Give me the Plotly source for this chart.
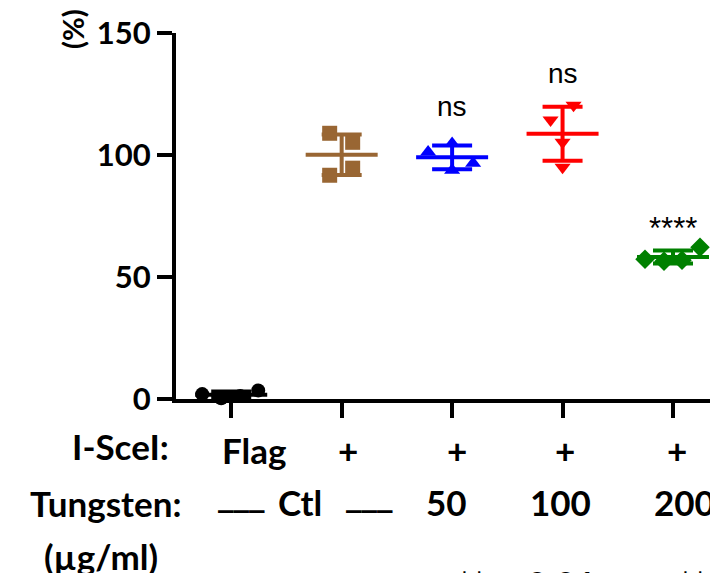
import numpy as np
import plotly.graph_objects as go

# ---------------- data ----------------
groups = ["Flag", "Ctl", "50", "100", "200"]
flag_vals = [2.0, 0.3, 1.2, 3.5]
ctl_vals = [108.9, 105.2, 91.7, 94.6]
t50_vals = [101.2, 104.7, 93.7, 96.6]
t100_vals = [120.4, 114.3, 105.2, 95.0]
t200_vals = [57.3, 56.5, 56.9, 62.2]
series = [flag_vals, ctl_vals, t50_vals, t100_vals, t200_vals]

sig_labels = ["", "", "ns", "ns", "****"]
sig_levels = [0, 0, 119.7, 133.6, 70.0]

y_ticks = [0, 50, 100, 150]
isce_row = ["Flag", "+", "+", "+", "+"]
tung_row = ["___", "Ctl", "___", "50", "100", "200"]
footnotes = ["**p<0.01,", "****p<0.0001"]

# ---------------- style ----------------
colors = ["#000000", "#996633", "#0000FF", "#FF0000", "#008000"]
symbols = ["circle", "square", "triangle-up", "triangle-down", "diamond"]
msizes = [14, 15, 14, 14, 15]
jitter_px = [[-29, -10, 9, 27], [-12, 11, -12, 11], [-24, 0, 0, 21],
             [11, -12, 0, 0], [-28, -9, 9, 27]]

W_FIG, H_FIG = 710, 573
L, R, T, B = 176, 0, 33, 174
PW, PH = W_FIG - L - R, H_FIG - T - B
XR = [-0.5, 4.335]
px_per_unit = PW / (XR[1] - XR[0])


def px_x(px):
    return (px - L) / PW


def px_y(py):
    return (H_FIG - B - py) / PH


fig = go.Figure()
for i, vals in enumerate(series):
    v = np.array(vals)
    m = v.mean()
    sd = v.std(ddof=1)
    xs = [i + j / px_per_unit for j in jitter_px[i]]
    fig.add_trace(go.Scatter(x=xs, y=vals, mode="markers", cliponaxis=False,
                             marker=dict(symbol=symbols[i], size=msizes[i], color=colors[i],
                                         line=dict(width=0)),
                             showlegend=False))
    hw = 36 / px_per_unit
    fig.add_trace(go.Scatter(x=[i - hw, i + hw], y=[m, m], mode="lines", cliponaxis=False,
                             line=dict(color=colors[i], width=4), showlegend=False))
    fig.add_trace(go.Scatter(x=[i], y=[m], mode="markers", cliponaxis=False,
                             marker=dict(size=1, color="rgba(0,0,0,0)"),
                             error_y=dict(type="data", array=[sd], visible=True,
                                          color=colors[i], thickness=4, width=20),
                             showlegend=False))

FS = 35
bold = dict(family="Lato", size=FS, color="black", weight="bold")
ann = []
for i, s in enumerate(sig_labels):
    if s:
        ann.append(dict(x=i, y=sig_levels[i], xref="x", yref="y", text=s, showarrow=False,
                        font=dict(family="Liberation Sans", size=28 if s == "ns" else 31,
                                  color="black"),
                        xanchor="center", yanchor="middle"))

# row labels
ann.append(dict(x=px_x(171), y=px_y(446), xref="paper", yref="paper", text="I-SceI:",
                showarrow=False, font=bold, xanchor="right", yanchor="middle"))
ann.append(dict(x=px_x(105), y=px_y(503), xref="paper", yref="paper", text="Tungsten:",
                showarrow=False, font=bold, xanchor="center", yanchor="middle"))
ann.append(dict(x=px_x(101), y=px_y(556), xref="paper", yref="paper", text="(µg/ml)",
                showarrow=False, font=bold, xanchor="center", yanchor="middle"))

isce_px = [253.5, 347.5, 457, 565, 677]
for t, p in zip(isce_row, isce_px):
    ann.append(dict(x=px_x(p), y=px_y(450), xref="paper", yref="paper", text=t,
                    showarrow=False, font=bold, xanchor="center", yanchor="middle"))

tung_px = [241.5, 300, 369.5, 446, 560.5, 684]
for t, p in zip(tung_row, tung_px):
    if t.startswith("_"):
        ann.append(dict(x=px_x(p), y=px_y(495), xref="paper", yref="paper", text=t,
                        showarrow=False,
                        font=dict(family="DejaVu Sans", size=31, color="black", weight="bold"),
                        xanchor="center", yanchor="middle"))
    else:
        ann.append(dict(x=px_x(p), y=px_y(502), xref="paper", yref="paper", text=t,
                        showarrow=False, font=bold, xanchor="center", yanchor="middle"))

ann.append(dict(x=px_x(73), y=px_y(29), xref="paper", yref="paper", text="(%)",
                showarrow=False, font=dict(family="Lato", size=29, color="black", weight="bold"),
                textangle=-90, xanchor="center", yanchor="middle"))

for t, p in zip(footnotes, [455, 676]):
    ann.append(dict(x=px_x(p), y=px_y(560), xref="paper", yref="paper",
                    text=t, showarrow=False, font=bold, xanchor="left", yanchor="top"))

fig.update_layout(
    width=W_FIG, height=H_FIG,
    margin=dict(l=L, r=R, t=T, b=B, pad=0),
    paper_bgcolor="white", plot_bgcolor="white",
    annotations=ann,
    xaxis=dict(range=XR, showgrid=False, zeroline=False, showline=True, linecolor="black",
               linewidth=4, ticks="outside", ticklen=15, tickwidth=4, tickcolor="black",
               tickvals=list(range(len(groups))), showticklabels=False),
    yaxis=dict(range=[0, 150], showgrid=False, zeroline=False, showline=True, linecolor="black",
               linewidth=4, ticks="outside", ticklen=15, tickwidth=4, tickcolor="black",
               tickvals=y_ticks, ticktext=[str(v) for v in y_ticks],
               tickfont=dict(family="Lato", size=31, color="black", weight="bold")),
)

fig.write_html("out.html")
